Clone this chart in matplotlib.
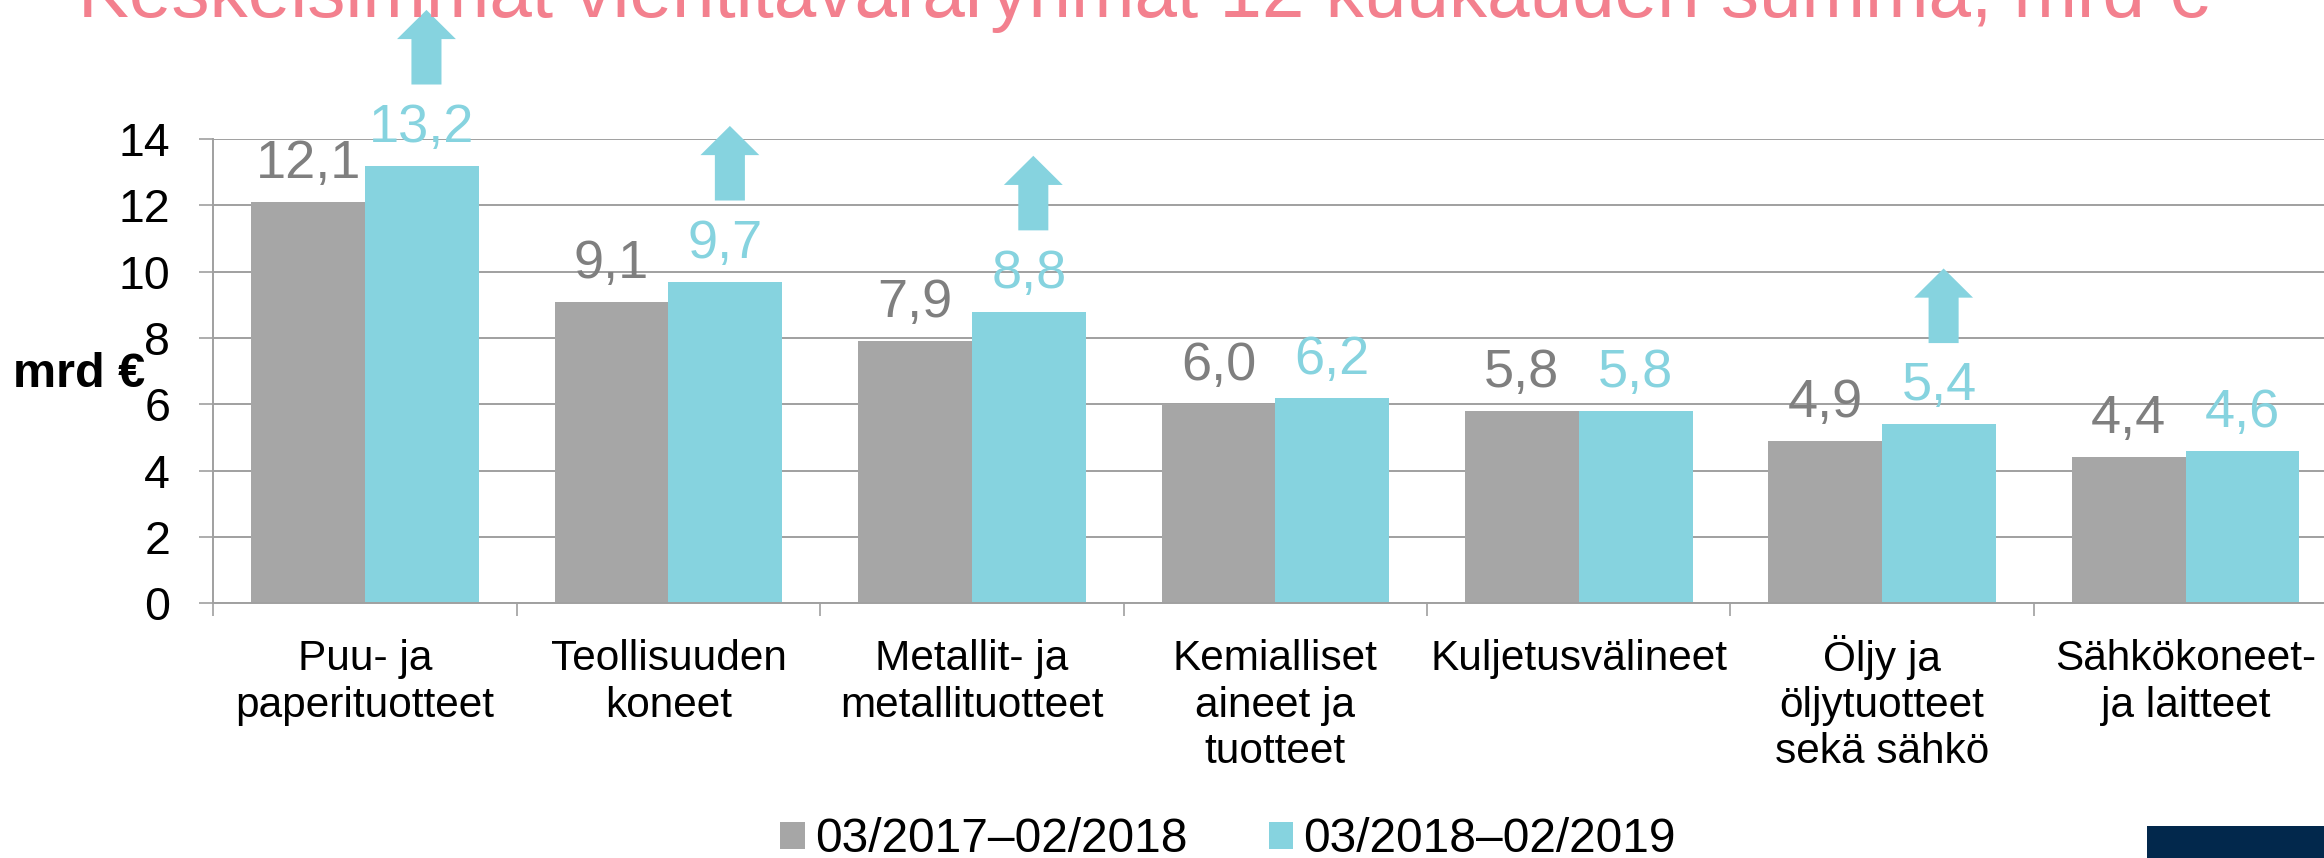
import numpy as np
import matplotlib
matplotlib.use("Agg")
import matplotlib.pyplot as plt
from matplotlib.patches import Rectangle

plt.rcParams['font.family'] = ['Liberation Sans', 'DejaVu Sans']

# data
title = 'Keskeisimmät vientitavararyhmät 12 kuukauden summa, mrd €'
categories = ['Puu- ja\npaperituotteet', 'Teollisuuden\nkoneet', 'Metallit- ja\nmetallituotteet',
              'Kemialliset\naineet ja\ntuotteet', 'Kuljetusvälineet', 'Öljy ja\nöljytuotteet\nsekä sähkö',
              'Sähkökoneet-\nja laitteet']
prev_year = [12.1, 9.1, 7.9, 6.0, 5.8, 4.9, 4.4]
curr_year = [13.2, 9.7, 8.8, 6.2, 5.8, 5.4, 4.6]
rising = [True, True, True, False, False, True, False]
series_labels = ['03/2017–02/2018', '03/2018–02/2019']
y_ticks = [0, 2, 4, 6, 8, 10, 12, 14]

GRAY = '#a6a6a6'
CYAN = '#86d3df'
GRAY_TXT = '#7f7f7f'
PINK = '#f3808e'
LINE = '#a0a0a0'
NAVY = '#02284c'

W, H = 2324, 858
fig = plt.figure(figsize=(W / 100, H / 100), dpi=100)
ax = fig.add_axes([213.3 / W, 254.7 / H, 2124 / W, 464.1 / H])

x = np.arange(len(categories))
bw = 0.375
ax.bar(x - bw / 2, prev_year, bw, color=GRAY, label=series_labels[0], zorder=2)
ax.bar(x + bw / 2, curr_year, bw, color=CYAN, label=series_labels[1], zorder=2)

fmt = lambda v: f"{v:.1f}".replace('.', ',')
for xi, v in zip(x, prev_year):
    ax.annotate(fmt(v), (xi - bw / 2, v), xytext=(0, 17.3), textcoords='offset points',
                ha='center', va='baseline', fontsize=39, color=GRAY_TXT, annotation_clip=False)
for xi, v, up in zip(x, curr_year, rising):
    ax.annotate(fmt(v), (xi + bw / 2, v), xytext=(0, 17.3), textcoords='offset points',
                ha='center', va='baseline', fontsize=39, color=CYAN, annotation_clip=False)
    if up:
        ax.arrow(xi + bw / 2 + 0.015, v + 2.45, 0, 2.25, width=0.099, head_width=0.194,
                 head_length=0.88, length_includes_head=True, color=CYAN, lw=0,
                 clip_on=False, zorder=3)

ax.set_xlim(-0.5, len(categories) - 0.5)
ax.set_ylim(0, 14)
ax.set_yticks(y_ticks)
ax.set_xticks(np.arange(-0.5, len(categories), 1))
ax.set_xticklabels([])
ax.set_xticks(x, categories, minor=True)
ax.tick_params(axis='x', which='major', length=9.4, width=1.2, color=LINE)
ax.tick_params(axis='x', which='minor', length=0, pad=26, labelsize=30.5)
ax.tick_params(axis='y', length=10, width=1.2, color=LINE, pad=21, labelsize=33.5)
# the umlaut on the first line pushes this label down a little
ax.xaxis.get_minor_ticks()[5].set_pad(22.5)
ax.yaxis.grid(True, color=LINE, lw=1.4)
ax.set_axisbelow(True)
for s in ['top', 'right']:
    ax.spines[s].set_visible(False)
for s in ['left', 'bottom']:
    ax.spines[s].set_color(LINE)
    ax.spines[s].set_linewidth(1.4)

fig.text(13 / W, (H - 386.7) / H, 'mrd €', fontsize=35, fontweight='bold', ha='left', va='baseline')
fig.text(1143 / W, (H - 17) / H, title, fontsize=55, color=PINK, ha='center', va='baseline')

ax.legend(ncol=2, loc='center', bbox_to_anchor=(1228 / W, 18 / H), bbox_transform=fig.transFigure,
          frameon=False, fontsize=34.5, handlelength=0.515, handleheight=0.515, handletextpad=0.21,
          columnspacing=1.7, borderpad=0, borderaxespad=0)

fig.add_artist(Rectangle((2147 / W, 0), 177 / W, 32 / H, transform=fig.transFigure,
                         color=NAVY, lw=0))

fig.savefig('out.png', dpi=100)
